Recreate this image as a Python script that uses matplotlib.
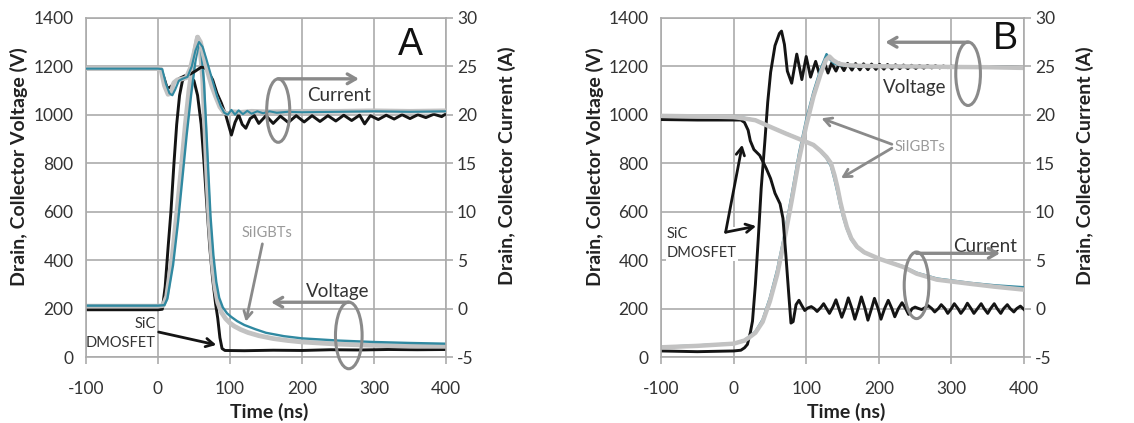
import matplotlib
matplotlib.use('Agg')
import matplotlib.pyplot as plt
from matplotlib.patches import Ellipse

plt.rcParams['font.family'] = ['Lato', 'DejaVu Sans']
plt.rcParams['axes.unicode_minus'] = False

BLACK = '#141414'
GREY = '#c2c2c2'
TEAL = '#3089a1'
MARK = '#8a8a8a'
GRID = '#ababab'
TXT = '#333333'

# ---------------- panel A (turn-on) ----------------
# voltages in V (left axis)
a_v_igbt_t = [-100, 0, 7, 12, 20, 27, 33, 38, 43, 49, 55, 58, 62, 65, 68, 71, 75, 79, 83, 88, 94, 100, 106, 115,
              125, 140, 160, 180, 200, 250, 300, 350, 400]
a_v_igbt = [210, 210, 212, 250, 420, 620, 800, 960, 1100, 1230, 1320, 1290, 1150, 950, 740, 560, 400, 290, 225, 185,
            158, 140, 127, 113, 101, 88, 76, 68, 62, 53, 48, 45, 44]

a_v_igbt2_t = [-100, 0, 9, 13, 21, 28, 34, 40, 46, 52, 57, 60, 64, 67, 70, 73, 77, 81, 85, 90, 96, 102, 110, 120,
               135, 150, 175, 200, 250, 300, 350, 400]
a_v_igbt2 = [212, 212, 214, 240, 380, 560, 740, 920, 1080, 1220, 1300, 1270, 1130, 950, 760, 580, 420, 310, 245, 205,
             180, 165, 148, 132, 115, 100, 86, 77, 68, 62, 58, 55]

a_v_sic_t = [-100, 0, 6, 10, 14, 18, 22, 26, 30, 34, 38, 44, 50, 55, 60, 64, 68, 72, 76, 80, 83, 86, 89, 93, 120,
             160, 200, 240, 280, 320, 360, 400]
a_v_sic = [195, 195, 197, 290, 450, 600, 790, 960, 1080, 1140, 1155, 1160, 1140, 1080, 960, 800, 620, 450, 320, 220,
           160, 80, 35, 27, 26, 28, 27, 30, 29, 31, 30, 31]

# currents in A (right axis)
a_i_igbt_t = [-100, 0, 4, 9, 14, 18, 22, 27, 31, 39, 45, 50, 55, 59, 63, 67, 71, 75, 80, 86, 92, 98, 105, 115, 130,
              150, 200, 250, 300, 350, 400]
a_i_igbt = [24.75, 24.75, 24.7, 23.0, 22.1, 22.2, 23.3, 23.6, 23.65, 23.8, 24.8, 26.3, 28.0, 27.5, 26.2, 25.0, 23.9,
            22.9, 21.9, 20.8, 20.2, 20.1, 20.3, 20.25, 20.35, 20.3, 20.35, 20.35, 20.4, 20.35, 20.4]

a_i_igbt2_t = [-100, 0, 6, 11, 16, 20, 24, 29, 34, 41, 47, 52, 57, 62, 67, 72, 77, 82, 87, 92, 97, 102, 107, 112,
               118, 124, 130, 138, 146, 155, 165, 180, 200, 250, 300, 350, 400]
a_i_igbt2 = [24.75, 24.75, 24.7, 23.2, 22.2, 22.0, 22.6, 23.5, 23.7, 23.9, 25.0, 26.6, 27.5, 27.0, 25.8, 24.5, 23.2,
             21.9, 20.9, 20.2, 20.0, 20.5, 20.0, 20.45, 20.05, 20.4, 20.1, 20.35, 20.15, 20.35, 20.2, 20.3, 20.25,
             20.3, 20.35, 20.3, 20.35]

a_i_sic_t = [-100, 0, 4, 8, 13, 18, 24, 30, 37, 45, 52, 60, 65, 70, 76, 82, 88, 94, 102, 107, 112, 117, 122, 128,
             134, 140, 150, 160, 170, 181, 192, 203, 214, 225, 236, 247, 258, 269, 280, 287, 295, 306, 317, 328,
             339, 350, 361, 372, 383, 394, 400]
a_i_sic = [24.75, 24.75, 24.7, 23.9, 22.7, 22.9, 23.4, 23.75, 24.0, 24.2, 24.5, 24.9, 24.85, 24.4, 23.6, 22.2, 21.2,
           20.0, 17.9, 19.2, 20.0, 19.0, 18.6, 19.6, 19.9, 19.1, 19.9, 19.1, 19.85, 19.2, 19.9, 19.25, 19.9, 19.3,
           19.9, 19.35, 19.95, 19.4, 19.95, 19.05, 19.9, 19.5, 19.95, 19.55, 20.0, 19.6, 20.0, 19.7, 20.05, 19.8,
           20.1]

# ---------------- panel B (turn-off) ----------------
b_v_igbt_t = [-100, -50, 0, 15, 22, 30, 40, 50, 60, 70, 80, 90, 100, 110, 120, 127, 132, 137, 145, 155, 170, 200,
              250, 300, 350, 400]
b_v_igbt = [40, 46, 55, 68, 82, 100, 145, 230, 340, 485, 645, 815, 955, 1075, 1170, 1225, 1240, 1225, 1210, 1205,
            1202, 1200, 1199, 1197, 1196, 1193]

b_v_igbt2_t = [-100, -50, 0, 15, 22, 30, 40, 50, 60, 70, 80, 90, 100, 110, 120, 128, 133, 138, 145, 155, 170, 200,
               250, 300, 350, 400]
b_v_igbt2 = [42, 48, 56, 70, 85, 105, 155, 245, 360, 505, 670, 840, 980, 1095, 1190, 1250, 1228, 1212, 1205, 1202,
             1200, 1200, 1199, 1198, 1197, 1196]

b_v_sic_t = [-100, -50, 0, 10, 15, 19, 23, 26, 30, 34, 38, 43, 47, 51, 57, 63, 66, 70, 74, 80, 87, 94, 100, 106,
             113, 119, 125, 130, 135, 141, 146, 152, 157, 163, 168, 174, 179, 185, 190, 196, 201, 207, 212, 218,
             223, 229, 234, 240, 245, 251, 256, 262, 267, 273, 278, 284, 289, 295, 300, 320, 350, 400]
b_v_sic = [25, 22, 25, 28, 38, 52, 100, 148, 299, 490, 696, 888, 1052, 1175, 1285, 1335, 1345, 1290, 1180, 1130,
           1250, 1145, 1240, 1155, 1220, 1160, 1215, 1172, 1213, 1180, 1213, 1182, 1212, 1184, 1211, 1185, 1210,
           1186, 1209, 1187, 1208, 1188, 1207, 1189, 1206, 1190, 1205, 1190, 1204, 1191, 1203, 1192, 1203, 1193,
           1202, 1193, 1201, 1194, 1200, 1198, 1197, 1195]

b_i_igbt_t = [-100, -50, 0, 13, 30, 51, 72, 94, 110, 120, 128, 134, 139, 143, 147, 151, 156, 162, 170, 180, 200,
              234, 252, 280, 326, 360, 400]
b_i_igbt = [19.88, 19.83, 19.75, 19.63, 19.43, 18.73, 18.05, 17.38, 16.88, 16.25, 15.63, 15.0, 13.75, 12.5, 11.0,
            9.75, 8.4, 7.25, 6.38, 5.8, 5.15, 4.28, 3.6, 2.98, 2.55, 2.25, 1.95]
b_i_igbt2 = [19.9, 19.85, 19.8, 19.7, 19.45, 18.75, 18.1, 17.4, 16.9, 16.2, 15.5, 14.7, 13.3, 12.0, 10.6, 9.4, 8.2,
             7.1, 6.3, 5.75, 5.15, 4.35, 3.7, 3.1, 2.65, 2.4, 2.2]

b_i_sic_t = [-100, -50, 0, 10, 15, 20, 23, 28, 36, 45, 51, 57, 64, 68, 72, 76, 79, 82, 86, 90, 94, 98, 102, 107,
             111, 115, 120, 124, 128, 132, 137, 141, 145, 149, 154, 158, 163, 167, 172, 176, 181, 185, 190, 194,
             199, 203, 208, 213, 218, 222, 227, 232, 237, 241, 246, 250, 255, 259, 264, 268, 273, 277, 282, 286,
             291, 295, 300, 304, 309, 313, 318, 322, 327, 331, 336, 341, 345, 350, 354, 359, 363, 368, 372, 377,
             381, 386, 390, 395, 400]
b_i_sic = [19.5, 19.45, 19.45, 19.45, 19.2, 18.4, 17.3, 16.4, 15.8, 14.45, 13.4, 11.9, 10.8, 9.3, 5.5, 1.45, -1.5,
           -1.35, 0.4, 0.85, 0.3, -0.2, 0.05, 0.2, 0.0, -0.3, 0.1, 0.5, 0.0, -0.5, 0.2, 0.9, 0.0, -0.9, 0.1, 1.1,
           0.0, -1.1, 0.1, 1.2, 0.0, -1.2, 0.0, 1.05, 0.0, -1.1, 0.0, 0.85, 0.0, -0.85, 0.0, 0.6, 0.0, -0.6, 0.0,
           0.15, 0.0, -0.1, 0.1, 0.3, 0.0, -0.35, 0.0, 0.4, 0.0, -0.5, 0.0, 0.5, 0.0, -0.5, 0.0, 0.55, 0.0, -0.5,
           0.0, 0.5, 0.0, -0.5, 0.0, 0.5, 0.0, -0.5, 0.0, 0.4, 0.0, -0.35, 0.0, 0.25, -0.1]

time_ticks = [-100, 0, 100, 200, 300, 400]
volt_ticks = [0, 200, 400, 600, 800, 1000, 1200, 1400]
amp_ticks = [-5, 0, 5, 10, 15, 20, 25, 30]


def setup(ax, lab_left, lab_right):
    ax.set_xlim(-100, 400)
    ax.set_ylim(0, 1400)
    ax.set_xticks(time_ticks)
    ax.set_yticks(volt_ticks)
    ax.grid(True, color=GRID, lw=1.2)
    ax.set_axisbelow(True)
    for s in ax.spines.values():
        s.set_color(GRID)
        s.set_linewidth(1.2)
    ax.tick_params(axis='y', length=0, pad=9, labelsize=12.5, labelcolor=TXT)
    ax.tick_params(axis='x', length=5, color=GRID, width=1.2, pad=12, labelsize=12.5, labelcolor=TXT)
    ax.set_xlabel('Time (ns)', fontsize=14, fontweight='bold', color='#222222')
    ax.xaxis.set_label_coords(0.51, -0.135)
    ax.set_ylabel('Drain, Collector Voltage (V)', fontsize=14, fontweight='bold', color='#222222')
    ax.yaxis.set_label_coords(lab_left, 0.56)

    ax2 = ax.twinx()
    ax2.set_ylim(-5, 30)
    ax2.set_yticks(amp_ticks)
    for s in ax2.spines.values():
        s.set_visible(False)
    ax2.tick_params(axis='y', length=5, color=GRID, width=1.2, pad=3, labelsize=12.5, labelcolor=TXT)
    ax2.set_ylabel('Drain, Collector Current (A)', fontsize=14, fontweight='bold', color='#222222')
    ax2.yaxis.set_label_coords(lab_right, 0.565)
    return ax2


def marker(ax, ax2, center, w, h, tail, head):
    # grey ellipse with a pointer telling which axis the group belongs to
    ax2.add_patch(Ellipse(center, w, h, transform=ax.transData, fill=False,
                          ec=MARK, lw=2.2, clip_on=False, zorder=6))
    ax2.annotate('', xy=head, xytext=tail, xycoords=ax.transData, textcoords=ax.transData,
                 arrowprops=dict(arrowstyle='->,head_length=0.6,head_width=0.35', color=MARK, lw=2.4,
                                 shrinkA=0, shrinkB=0), zorder=6)


def arrow(ax, ax2, tail, head, color):
    ax2.annotate('', xy=head, xytext=tail, xycoords=ax.transData, textcoords=ax.transData,
                 arrowprops=dict(arrowstyle='->,head_length=0.55,head_width=0.3', color=color, lw=2.0,
                                 shrinkA=0, shrinkB=0), zorder=6)


fig = plt.figure(figsize=(11.34, 4.23), dpi=100)

# ---- A ----
ax = fig.add_axes([0.0758, 0.156, 0.3175, 0.802])
ax2 = setup(ax, -0.16, 1.145)
ax.plot(a_v_sic_t, a_v_sic, color=BLACK, lw=2.1)
ax.plot(a_v_igbt_t, a_v_igbt, color=GREY, lw=3.4)
ax.plot(a_v_igbt2_t, a_v_igbt2, color=TEAL, lw=1.7)
ax2.plot(a_i_sic_t, a_i_sic, color=BLACK, lw=2.1)
ax2.plot(a_i_igbt_t, a_i_igbt, color=GREY, lw=3.4)
ax2.plot(a_i_igbt2_t, a_i_igbt2, color=TEAL, lw=1.5)

ax2.text(350, 1286, 'A', transform=ax.transData, fontsize=27, family='Liberation Sans',
         ha='center', va='center', color='#111111')
ax2.text(251, 1079, 'Current', transform=ax.transData, fontsize=13.5, ha='center', va='center', color=TXT)
marker(ax, ax2, (167, 1017), 32, 262, (167, 1148), (279, 1148))
ax2.text(249, 272, 'Voltage', transform=ax.transData, fontsize=13.5, ha='center', va='center', color=TXT)
marker(ax, ax2, (265, 89), 37, 275, (265, 226), (157, 226))
ax2.text(152, 510, 'SiIGBTs', transform=ax.transData, fontsize=10.5, ha='center', va='center', color='#9a9a9a')
arrow(ax, ax2, (145, 467), (122, 146), MARK)
ax2.text(-3, 96, 'SiC\nDMOSFET', transform=ax.transData, fontsize=10.5, ha='right', va='center',
         color=TXT, linespacing=1.45)
arrow(ax, ax2, (1, 103), (81, 50), BLACK)

# ---- B ----
bx = fig.add_axes([0.5829, 0.156, 0.3201, 0.802])
bx2 = setup(bx, -0.158, 1.142)
bx.plot(b_v_sic_t, b_v_sic, color=BLACK, lw=2.1)
bx.plot(b_v_igbt2_t, b_v_igbt2, color=TEAL, lw=1.7)
bx.plot(b_v_igbt_t, b_v_igbt, color=GREY, lw=3.2)
bx2.plot(b_i_sic_t, b_i_sic, color=BLACK, lw=2.1)
bx2.plot(b_i_igbt_t, b_i_igbt2, color=TEAL, lw=1.7)
bx2.plot(b_i_igbt_t, b_i_igbt, color=GREY, lw=3.2)

bx2.text(374, 1313, 'B', transform=bx.transData, fontsize=27, family='Liberation Sans',
         ha='center', va='center', color='#111111')
marker(bx, bx2, (323, 1169), 34, 262, (323, 1299), (209, 1299))
bx2.text(250, 1112, 'Voltage', transform=bx.transData, fontsize=13.5, ha='center', va='center', color=TXT)
bx2.text(257, 868, 'SiIGBTs', transform=bx.transData, fontsize=10.5, ha='center', va='center', color='#9a9a9a')
arrow(bx, bx2, (218, 878), (121, 985), MARK)
arrow(bx, bx2, (218, 862), (148, 738), MARK)
bx2.text(346, 456, 'Current', transform=bx.transData, fontsize=13.5, ha='center', va='center', color=TXT)
marker(bx, bx2, (252, 296), 34, 275, (252, 428), (367, 428))
bx2.text(-92, 467, 'SiC\nDMOSFET', transform=bx.transData, fontsize=10.5, ha='left', va='center',
         color=TXT, linespacing=1.45, bbox=dict(fc='white', ec='none', pad=0.5))
arrow(bx, bx2, (-11, 515), (12, 876), BLACK)
arrow(bx, bx2, (-11, 515), (31, 540), BLACK)

fig.savefig('out.png', dpi=100)
